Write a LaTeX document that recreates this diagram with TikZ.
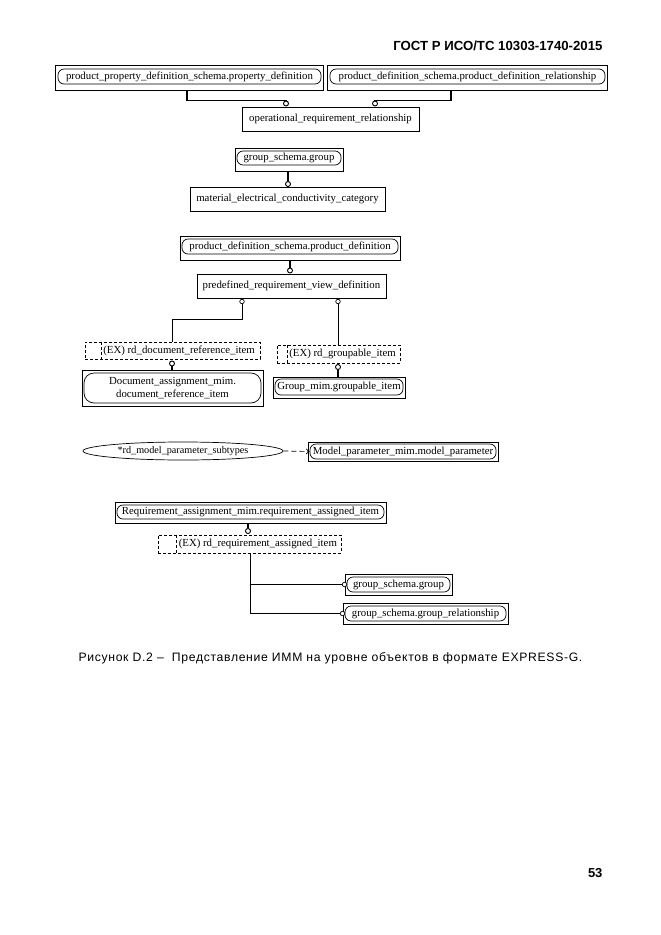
\documentclass[tikz,border=0pt]{standalone}
\usepackage{fontspec}
\setmainfont{Liberation Serif}
\newfontfamily\hdrfont{Liberation Sans}
\newfontfamily\capfont[LetterSpace=5.5]{Liberation Sans}
\usetikzlibrary{arrows.meta,shapes.geometric}
\begin{document}
\begin{tikzpicture}[x=1pt,y=-1pt,
  lbl/.style={font=\fontsize{10.8}{12}\selectfont},
  entbox/.style={draw, line width=0.8pt, inner sep=0pt, lbl},
  refouter/.style={draw, line width=0.8pt, inner sep=0pt},
  refinner/.style={draw, line width=0.7pt, rounded corners=6pt, inner sep=0pt, lbl},
  selbox/.style={draw, dashed, dash pattern=on 3pt off 2pt, line width=0.7pt, inner sep=0pt},
  seltext/.style={anchor=west, inner sep=0pt, lbl},
  selline/.style={dashed, dash pattern=on 3pt off 2pt, line width=0.7pt},
  rel/.style={line width=1.6pt},
  thinrel/.style={line width=0.7pt},
  ring/.style={circle, draw, line width=0.9pt, fill=white, minimum size=5pt, inner sep=0pt},
  smallring/.style={ring, minimum size=4.5pt, line width=0.7pt},
]
\useasboundingbox (0,0) rectangle (661,935);

% header
\node[anchor=east, font=\hdrfont\bfseries\fontsize{13.2}{15}\selectfont] (hdr) at (606,46) {ГОСТ Р ИСО/ТС 10303-1740-2015};

% A, B -> C
\node[refouter, minimum width=268pt, minimum height=25pt] (A) at (189,77.5) {};
\node[refinner, minimum width=263pt, minimum height=15pt] (Ai) at (189.5,76.5) {product\_property\_definition\_schema.property\_definition};
\node[refouter, minimum width=280pt, minimum height=25pt] (B) at (467,77.5) {};
\node[refinner, minimum width=275pt, minimum height=15pt] (Bi) at (467.5,76.5) {product\_definition\_schema.product\_definition\_relationship};
\node[entbox, minimum width=177pt, minimum height=24pt] (C) at (330.5,119) {operational\_requirement\_relationship};
\node[ring] (c1) at (286,103.5) {};
\node[ring] (c2) at (375,103.5) {};
\draw[rel] ([xshift=-2pt]A.south) -- ++(0,10) -| (c1.north);
\draw[rel] ([xshift=-16pt]B.south) -- ++(0,10) -| (c2.north);

% D -> E
\node[refouter, minimum width=108pt, minimum height=23pt] (D) at (289,159.5) {};
\node[refinner, minimum width=104pt, minimum height=14pt] (Di) at (289,158) {group\_schema.group};
\node[entbox, minimum width=195pt, minimum height=24pt] (E) at (287.5,199) {material\_electrical\_conductivity\_category};
\node[ring] (c3) at (288,184) {};
\draw[rel] (D.south -| c3) -- (c3.north);

% F -> G
\node[refouter, minimum width=220pt, minimum height=24pt] (F) at (290,248) {};
\node[refinner, minimum width=216pt, minimum height=15pt] (Fi) at (290,246.5) {product\_definition\_schema.product\_definition};
\node[entbox, minimum width=189pt, minimum height=24pt] (G) at (291.5,286) {predefined\_requirement\_view\_definition};
\node[ring] (c4) at (290,270.5) {};
\draw[rel] (F.south -| c4) -- (c4.north);

% G -> H, I
\node[selbox, minimum width=175pt, minimum height=17pt] (H) at (172.5,350.5) {};
\draw[selline] ([xshift=17pt]H.north west) -- ([xshift=17pt]H.south west);
\node[seltext] (Ht) at ([xshift=18.5pt]H.west) {(EX) rd\_document\_reference\_item};
\node[selbox, minimum width=123pt, minimum height=18pt] (I) at (338.5,354) {};
\draw[selline] ([xshift=11pt]I.north west) -- ([xshift=11pt]I.south west);
\node[seltext] (It) at ([xshift=12.5pt]I.west) {(EX) rd\_groupable\_item};
\node[smallring] (c5) at (242,301.5) {};
\node[smallring] (c6) at (338,301.5) {};
\draw[thinrel] (c5.south) -- ++(0,15) -| (H.north);
\draw[thinrel] (c6.south) -- (I.north -| c6);

% H -> J, I -> K
\node[refouter, minimum width=181pt, minimum height=36pt] (J) at (172.5,388) {};
\node[refinner, minimum width=177pt, minimum height=30pt, align=center, font=\fontsize{10.8}{12.5}\selectfont, rounded corners=10pt] (Ji) at (172.5,388) {Document\_assignment\_mim.\\document\_reference\_item};
\node[ring] (c7) at (172,363.5) {};
\draw[rel] (c7.south) -- (J.north -| c7);
\node[refouter, minimum width=132pt, minimum height=21pt] (K) at (339,387.5) {};
\node[refinner, minimum width=128pt, minimum height=16pt] (Ki) at (339,387) {Group\_mim.groupable\_item};
\node[ring] (c8) at (338,367) {};
\draw[rel] (c8.south) -- (K.north -| c8);

% L -> M
\node[ellipse, draw, line width=0.7pt, minimum width=200pt, minimum height=18pt, inner sep=0pt, font=\fontsize{10.2}{11}\selectfont] (L) at (183,451) {*rd\_model\_parameter\_subtypes};
\node[refouter, minimum width=190pt, minimum height=19pt] (M) at (403,451.5) {};
\node[refinner, minimum width=186pt, minimum height=15pt] (Mi) at (403,451.5) {Model\_parameter\_mim.model\_parameter};
\draw[thinrel, dashed, dash pattern=on 5pt off 3pt, -{Straight Barb[length=3pt,width=5pt]}] (L.east) -- (Mi.west);

% N -> O -> P, Q
\node[refouter, minimum width=271pt, minimum height=21pt] (N) at (250.5,512.5) {};
\node[refinner, minimum width=267pt, minimum height=14pt] (Ni) at (250.5,512) {Requirement\_assignment\_mim.requirement\_assigned\_item};
\node[selbox, minimum width=183pt, minimum height=18pt] (O) at (249.5,544) {};
\draw[selline] ([xshift=19pt]O.north west) -- ([xshift=19pt]O.south west);
\node[seltext] (Ot) at ([xshift=21pt]O.west) {(EX) rd\_requirement\_assigned\_item};
\node[ring] (c9) at (248,531) {};
\draw[rel] (N.south -| c9) -- (c9.north);

\node[refouter, minimum width=107pt, minimum height=21pt] (P) at (398.5,584.5) {};
\node[refinner, minimum width=103pt, minimum height=15pt] (Pi) at (398.5,584.5) {group\_schema.group};
\node[refouter, minimum width=165pt, minimum height=21pt] (Q) at (425.5,613.5) {};
\node[refinner, minimum width=161pt, minimum height=15pt] (Qi) at (425.5,613.5) {group\_schema.group\_relationship};
\node[smallring] (c10) at (344.5,584.5) {};
\node[smallring] (c11) at (342.5,613.5) {};
\coordinate (ob) at ([xshift=0.5pt]O.south);
\draw[thinrel] (ob) |- (c11.west);
\draw[thinrel] (ob |- c10) -- (c10.west);

% caption
\node[anchor=west, font=\capfont\fontsize{12.2}{14}\selectfont] (cap) at (75,658) {Рисунок D.2 –\ \ Представление ИММ на уровне объектов в формате EXPRESS-G.};

% page number
\node[anchor=east, font=\hdrfont\bfseries\fontsize{13}{15}\selectfont] (pg) at (606,873) {53};
\end{tikzpicture}
\end{document}
